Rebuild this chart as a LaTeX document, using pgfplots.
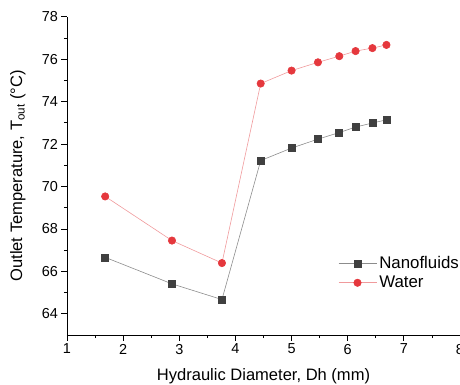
\documentclass[border=0pt]{standalone}
\usepackage{pgfplots}
\pgfplotsset{compat=1.18}
\usepackage{fontspec}
\setmainfont{Liberation Sans}
\definecolor{nano}{HTML}{404040}
\definecolor{nanoline}{HTML}{8C8C8C}
\definecolor{wat}{HTML}{E5383D}
\definecolor{watline}{HTML}{F09A9C}
\begin{document}
\begin{tikzpicture}
\begin{axis}[
 scale only axis, width=393bp, height=318.3bp,
 xmin=1, xmax=8, ymin=63, ymax=78,
 axis lines=left, axis line style={-, line width=0.9pt},
 xtick={1,...,8}, ytick={64,66,...,78},
 minor x tick num=1, minor y tick num=1,
 tick align=outside,
 major tick length=5.5bp, minor tick length=3bp,
 every tick/.style={black, line width=0.8pt},
 tick label style={font=\fontsize{14.5}{16}\selectfont},
 /pgf/number format/assume math mode=true,
 xlabel={Hydraulic Diameter, Dh (mm)},
 ylabel={Outlet Temperature, T\textsubscript{out} (°C)},
 label style={font=\fontsize{16.6}{18}\selectfont},
 xlabel style={at={(axis description cs:0.5,-0.131)}, anchor=center},
 ylabel style={at={(axis description cs:-0.125,0.5)}, anchor=center},
 legend style={draw=none, fill=none, at={(axis description cs:0.6896,0.195)}, anchor=west, inner sep=0pt, font=\fontsize{16.9}{19}\selectfont, row sep=1bp, nodes={inner sep=2.5bp}},
 legend cell align=left,
 legend image code/.code={\draw[mark repeat=2,mark phase=2] plot coordinates {(0bp,0bp)(19bp,0bp)(38bp,0bp)};},
]
\addplot[color=nanoline, line width=0.6pt, mark=square*, mark size=3.5bp, mark options={draw=nano, fill=nano, solid}] coordinates {
(1.68,66.66) (2.87,65.41) (3.76,64.67) (4.45,71.22) (5.00,71.81) (5.47,72.23) (5.85,72.54) (6.14,72.80) (6.44,72.99) (6.69,73.14)};
\addlegendentry{Nanofluids}
\addplot[color=watline, line width=0.6pt, mark=*, mark size=3.7bp, mark options={draw=wat, fill=wat, solid}] coordinates {
(1.68,69.53) (2.87,67.45) (3.76,66.39) (4.45,74.85) (5.00,75.46) (5.47,75.85) (5.85,76.14) (6.14,76.38) (6.44,76.52) (6.69,76.67)};
\addlegendentry{Water}
\end{axis}
\pgfresetboundingbox
\useasboundingbox (-67bp,-50bp) rectangle (393bp,335bp);
\end{tikzpicture}
\end{document}
